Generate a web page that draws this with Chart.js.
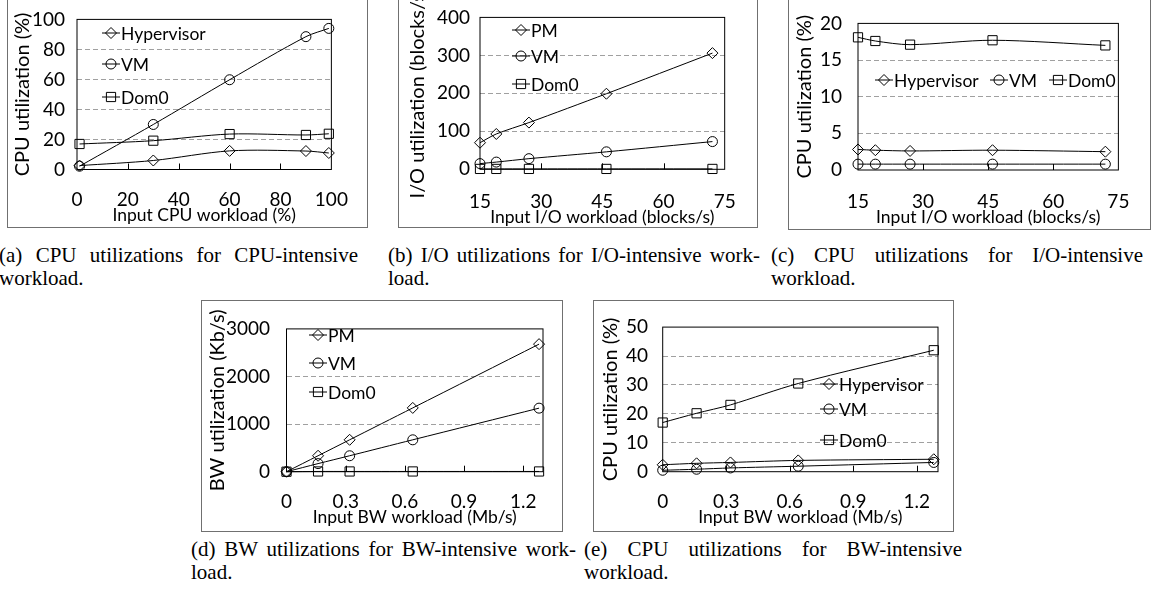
<!DOCTYPE html>
<html>
<head>
<meta charset="utf-8">
<script src="https://cdn.jsdelivr.net/npm/chart.js@4.4.1/dist/chart.umd.min.js"></script>
<style>
  body { margin: 0; background: #fff; width: 1156px; height: 596px; position: relative; overflow: hidden; }
  .panel { position: absolute; border: 1px solid #707070; box-sizing: border-box; background: #fff; }
  .panel canvas { position: absolute; left: 0; top: 0; }
  .cap { position: absolute; font-family: "Liberation Serif", "Times New Roman", serif; font-size: 21px; line-height: 23px; color: #000; }
  .cap .j { text-align: justify; text-align-last: justify; }
</style>
</head>
<body>

<div class="cap" style="left:-1px;top:244px;width:359px"><div class="j">(a) CPU utilizations for CPU-intensive</div><div>workload.</div></div>
<div class="cap" style="left:388px;top:244px;width:372px"><div class="j">(b) I/O utilizations for I/O-intensive work-</div><div>load.</div></div>
<div class="cap" style="left:771px;top:244px;width:372px"><div class="j">(c) CPU utilizations for I/O-intensive</div><div>workload.</div></div>
<div class="cap" style="left:191px;top:538px;width:385px"><div class="j">(d) BW utilizations for BW-intensive work-</div><div>load.</div></div>
<div class="cap" style="left:584px;top:538px;width:378px"><div class="j">(e) CPU utilizations for BW-intensive</div><div>workload.</div></div>

<script>
// (a) CPU-intensive workload
let cpuLoad = [1, 30, 60, 90, 99];
let cpuHyp = [2.6, 6, 12.4, 12.3, 11];
let cpuVM = [2.2, 30, 59.8, 88.5, 94];
let cpuDom0 = [17, 19.2, 23.6, 23, 23.8];
let cpuTicksX = [0, 20, 40, 60, 80, 100];
let cpuTicksY = [0, 20, 40, 60, 80, 100];

// (b), (c) I/O-intensive workload
let ioLoad = [15, 19, 27, 46, 72];
let ioPM = [70, 93, 123, 199, 306];
let ioVM = [15, 19, 28, 46, 73];
let ioDom0 = [1, 1, 1, 1, 1];
let ioCpuHyp = [2.8, 2.7, 2.6, 2.7, 2.5];
let ioCpuVM = [0.8, 0.8, 0.8, 0.8, 0.8];
let ioCpuDom0 = [18.1, 17.6, 17.1, 17.7, 17.0];
let ioTicksX = [15, 30, 45, 60, 75];
let ioTicksY = [0, 100, 200, 300, 400];
let ioCpuTicksY = [0, 5, 10, 15, 20];

// (d), (e) BW-intensive workload
let bwLoad = [0, 0.16, 0.32, 0.64, 1.28];
let bwPM = [0, 335, 670, 1340, 2680];
let bwVM = [0, 170, 335, 670, 1335];
let bwDom0 = [0, 5, 5, 5, 5];
let bwCpuHyp = [2.4, 2.9, 3.2, 3.9, 4.3];
let bwCpuVM = [0.5, 0.85, 1.3, 1.9, 3.2];
let bwCpuDom0 = [17, 20.2, 23.1, 30.5, 42];
let bwTicksX = [0, 0.3, 0.6, 0.9, 1.2];
let bwTicksY = [0, 1000, 2000, 3000];
let bwCpuTicksY = [0, 10, 20, 30, 40, 50];

let FONT = "Lato";
let TICK_SIZE = 19;
let TITLE_SIZE = 17.5;
let YTITLE_SIZE = 20;
let LEGEND_SIZE = 17.5;
let markers = ["rectRot", "circle", "rect"];
let radius = { rectRot: 5.5, circle: 5, rect: 6.5 };

// page layout of each panel: box, plot area, text anchors
let panels = [
  { box: [7, -5, 361, 233], plot: [77, 13, 347, 169.5], xMax: 100,
    xs: cpuLoad, series: [cpuHyp, cpuVM, cpuDom0], names: ["Hypervisor", "VM", "Dom0"],
    xTicks: cpuTicksX, yTicks: cpuTicksY,
    xTitle: "Input CPU workload (%)", yTitle: "CPU utilization (%)",
    legend: [[111, 33], [111, 64], [111, 97]],
    yTitleX: 23, yTickRight: 65, xTickY: 200, xTitleY: 215 },
  { box: [398, -5, 360, 233], plot: [480, 13, 738, 169.3], xMax: 75,
    xs: ioLoad, series: [ioPM, ioVM, ioDom0], names: ["PM", "VM", "Dom0"],
    xTicks: ioTicksX, yTicks: ioTicksY,
    xTitle: "Input I/O workload (blocks/s)", yTitle: "I/O utilization (blocks/s)",
    legend: [[521, 30], [521, 56], [521, 84]],
    yTitleX: 418, yTickRight: 470, xTickY: 202, xTitleY: 217 },
  { box: [788, -5, 363, 235], plot: [858, 12.7, 1128, 170], xMax: 75,
    xs: ioLoad, series: [ioCpuHyp, ioCpuVM, ioCpuDom0], names: ["Hypervisor", "VM", "Dom0"],
    xTicks: ioTicksX, yTicks: ioCpuTicksY,
    xTitle: "Input I/O workload (blocks/s)", yTitle: "CPU utilization (%)",
    legend: [[884, 80], [999, 80], [1058, 80]],
    yTitleX: 805, yTickRight: 842, xTickY: 202, xTitleY: 217 },
  { box: [201, 300, 362, 232], plot: [286.5, 314, 543, 471.7], xMax: 1.3,
    xs: bwLoad, series: [bwPM, bwVM, bwDom0], names: ["PM", "VM", "Dom0"],
    xTicks: bwTicksX, yTicks: bwTicksY,
    xTitle: "Input BW workload (Mb/s)", yTitle: "BW utilization (Kb/s)",
    legend: [[318, 335], [318, 363], [318, 392]],
    yTitleX: 218, yTickRight: 270, xTickY: 502, xTitleY: 517 },
  { box: [593, 300, 361, 232], plot: [662.7, 315, 938, 471.7], xMax: 1.3,
    xs: bwLoad, series: [bwCpuHyp, bwCpuVM, bwCpuDom0], names: ["Hypervisor", "VM", "Dom0"],
    xTicks: bwTicksX, yTicks: bwCpuTicksY,
    xTitle: "Input BW workload (Mb/s)", yTitle: "CPU utilization (%)",
    legend: [[829, 384], [829, 409], [829, 440]],
    yTitleX: 611, yTickRight: 648, xTickY: 502, xTitleY: 517 }
];

function drawMarker(ctx, style, x, y, r) {
  ctx.beginPath();
  if (style === "circle") {
    ctx.arc(x, y, r, 0, Math.PI * 2);
  } else if (style === "rectRot") {
    ctx.moveTo(x, y - r);
    ctx.lineTo(x + r, y);
    ctx.lineTo(x, y + r);
    ctx.lineTo(x - r, y);
    ctx.closePath();
  } else {
    let s = r * Math.SQRT1_2;
    ctx.rect(x - s, y - s, 2 * s, 2 * s);
  }
  ctx.stroke();
}

// plot frame + small inward tick marks on the x axis
let framePlugin = {
  id: "frame",
  beforeDatasetsDraw(chart) {
    let ctx = chart.ctx;
    let a = chart.chartArea;
    let xs = chart.scales.x;
    ctx.save();
    ctx.strokeStyle = "#000";
    ctx.lineWidth = 1;
    ctx.strokeRect(a.left, a.top, a.right - a.left, a.bottom - a.top);
    xs.ticks.forEach((t) => {
      if (t.value <= xs.min || t.value >= xs.max) return;
      let px = Math.round(xs.getPixelForValue(t.value)) + 0.5;
      ctx.beginPath();
      ctx.moveTo(px, a.bottom);
      ctx.lineTo(px, a.bottom - 6);
      ctx.stroke();
    });
    ctx.restore();
  },
};

// legend drawn inside the plot like the Excel original
let legendPlugin = {
  id: "innerLegend",
  afterDraw(chart) {
    let opts = chart.options.plugins.innerLegend;
    let ctx = chart.ctx;
    ctx.save();
    ctx.font = LEGEND_SIZE + "px " + FONT;
    ctx.textBaseline = "middle";
    ctx.fillStyle = "#000";
    ctx.strokeStyle = "#000";
    ctx.lineWidth = 1;
    chart.data.datasets.forEach((ds, i) => {
      let [x, y] = opts.pos[i];
      ctx.beginPath();
      ctx.moveTo(x - 9, y);
      ctx.lineTo(x + 9, y);
      ctx.stroke();
      drawMarker(ctx, ds.pointStyle, x, y, ds.pointRadius);
      ctx.fillText(ds.label, x + 10, y + 1);
    });
    ctx.restore();
  },
};

panels.forEach((p) => {
  let [bx, by, bw, bh] = p.box;
  let [pl, pt, pr, pb] = p.plot;
  let div = document.createElement("div");
  div.className = "panel";
  div.style.left = bx + "px";
  div.style.top = by + "px";
  div.style.width = bw + "px";
  div.style.height = bh + "px";
  let canvas = document.createElement("canvas");
  canvas.width = bw - 2;
  canvas.height = bh - 2;
  div.appendChild(canvas);
  document.body.appendChild(div);

  let ox = bx + 1;
  let oy = by + 1;
  let lh = TITLE_SIZE * 1.2;
  let lhY = YTITLE_SIZE * 1.2;
  let lhT = TICK_SIZE * 1.2;
  let yW = pl - ox;
  let xH = by + bh - 1 - pb;
  let yMin = p.yTicks[0];
  let yMax = p.yTicks[p.yTicks.length - 1];
  let xt = p.xTicks;
  let yt = p.yTicks;

  let datasets = p.series.map((ys, i) => ({
    label: p.names[i],
    data: p.xs.map((x, k) => ({ x: x, y: ys[k] })),
    borderColor: "#000",
    borderWidth: 1,
    pointStyle: markers[i],
    pointRadius: radius[markers[i]],
    pointBorderColor: "#000",
    pointBackgroundColor: "rgba(0,0,0,0)",
    pointBorderWidth: 1,
    tension: 0.3,
    clip: false,
  }));

  new Chart(canvas, {
    type: "line",
    data: { datasets: datasets },
    options: {
      responsive: false,
      animation: false,
      devicePixelRatio: 1,
      layout: { padding: { left: 0, top: pt - oy, right: bx + bw - 1 - pr, bottom: 0 } },
      plugins: {
        legend: { display: false },
        tooltip: { enabled: false },
        innerLegend: { pos: p.legend.map(([x, y]) => [x - ox, y - oy]) },
      },
      scales: {
        x: {
          type: "linear",
          min: xt[0],
          max: p.xMax,
          afterBuildTicks: (s) => { s.ticks = xt.map((v) => ({ value: v })); },
          afterFit: (s) => { s.height = xH; },
          grid: { display: false, drawTicks: false },
          border: { display: false },
          ticks: {
            font: { family: FONT, size: TICK_SIZE },
            color: "#000",
            padding: p.xTickY - pb - lhT / 2,
            maxRotation: 0,
            autoSkip: false,
            callback: (v) => String(v),
          },
          title: {
            display: true,
            text: p.xTitle,
            color: "#000",
            font: { family: FONT, size: TITLE_SIZE },
            padding: { top: 0, bottom: by + bh - 1 - p.xTitleY - lh / 2 },
          },
        },
        y: {
          type: "linear",
          min: yMin,
          max: yMax,
          afterBuildTicks: (s) => { s.ticks = yt.map((v) => ({ value: v })); },
          afterFit: (s) => { s.width = yW; },
          grid: {
            drawTicks: false,
            lineWidth: 1,
            borderDash: [5, 3],
            color: (c) => (c.tick && (c.tick.value === yMin || c.tick.value === yMax)) ? "rgba(0,0,0,0)" : "#a0a0a0",
          },
          border: { display: false, dash: [5, 3] },
          ticks: {
            font: { family: FONT, size: TICK_SIZE },
            color: "#000",
            padding: pl - p.yTickRight,
            callback: (v) => String(v),
          },
          title: {
            display: true,
            text: p.yTitle,
            color: "#000",
            font: { family: FONT, size: YTITLE_SIZE },
            padding: { top: p.yTitleX - ox - lhY / 2, bottom: 0 },
          },
        },
      },
    },
    plugins: [framePlugin, legendPlugin],
  });
});
</script>
</body>
</html>
